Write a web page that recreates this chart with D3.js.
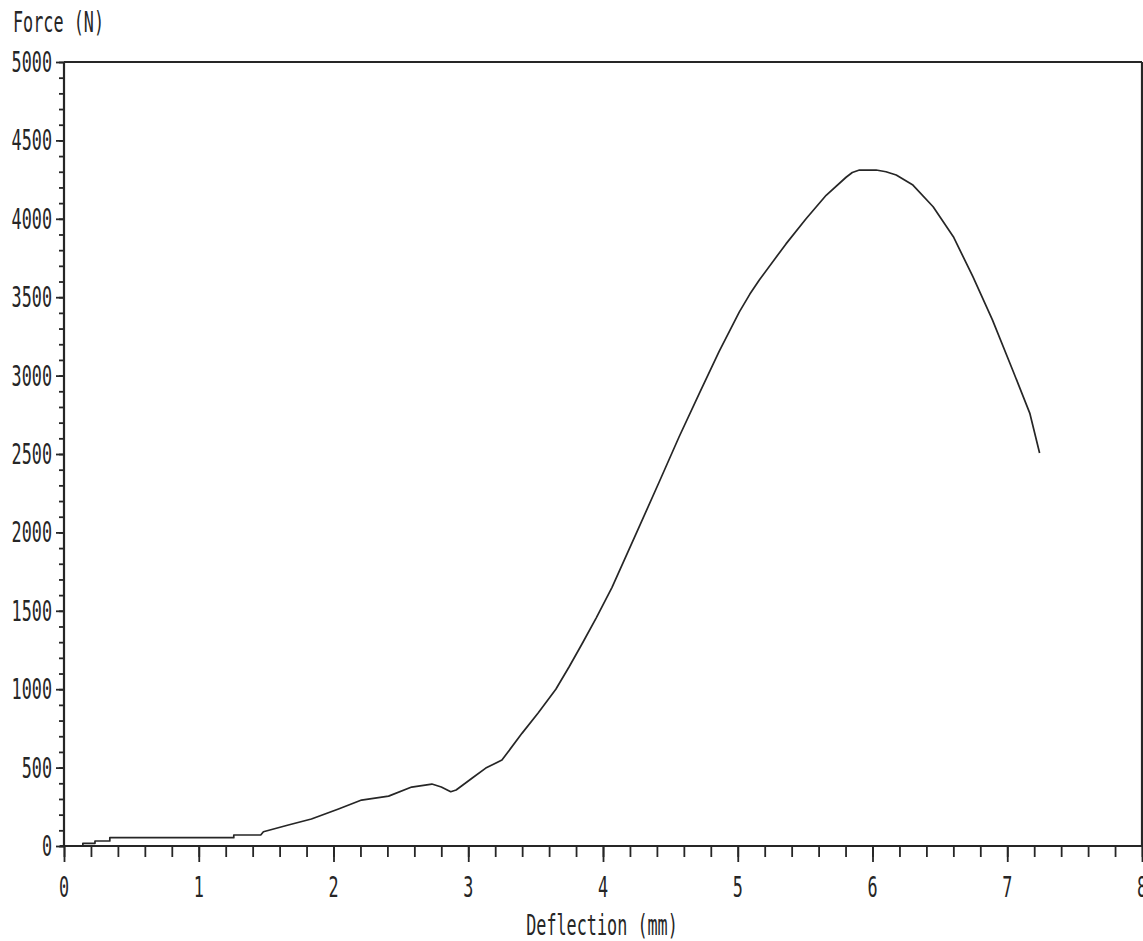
<!DOCTYPE html>
<html>
<head>
<meta charset="utf-8">
<script src="https://cdn.jsdelivr.net/npm/d3@7"></script>
<style>
  html, body { margin: 0; padding: 0; background: #ffffff; }
  svg { display: block; }
  text { font-family: "DejaVu Sans Mono", "Liberation Mono", monospace; fill: #262626; }
</style>
</head>
<body>
<svg id="chart" width="1143" height="941"></svg>
<script>
// ---- data ----
const deflection = [0, 0.14, 0.14, 0.23, 0.23, 0.34, 0.34, 1.26, 1.26, 1.46, 1.48, 1.665, 1.836, 2.037, 2.208, 2.409, 2.58, 2.73, 2.80, 2.87, 2.91, 3.03, 3.13, 3.25, 3.40, 3.52, 3.65, 3.75, 3.845, 3.95, 4.067, 4.245, 4.416, 4.565, 4.714, 4.862, 5.011, 5.09, 5.16, 5.358, 5.507, 5.656, 5.804, 5.85, 5.903, 6.027, 6.10, 6.176, 6.30, 6.45, 6.60, 6.745, 6.89, 7.04, 7.167, 7.24];
const force = [0, 0, 17, 17, 32, 32, 53, 53, 70, 70, 91, 134, 172, 236, 293, 318, 376, 395, 376, 346, 357, 434, 497, 548, 720, 850, 1000, 1145, 1290, 1455, 1650, 1990, 2320, 2610, 2885, 3155, 3405, 3520, 3610, 3840, 4000, 4150, 4265, 4295, 4311, 4311, 4300, 4279, 4215, 4077, 3886, 3631, 3355, 3036, 2761, 2506];
const xTickLabels = ["0", "1", "2", "3", "4", "5", "6", "7", "8"];
const yTickLabels = ["0", "500", "1000", "1500", "2000", "2500", "3000", "3500", "4000", "4500", "5000"];
const xTitle = "Deflection (mm)";
const yTitle = "Force (N)";

(function () {
  // ---- layout ----
  const pLeft = 64, pRight = 1142, pTop = 62, pBottom = 846;
  const svg = d3.select("#chart");
  const ink = "#262626";
  const sx = 0.6; // condensed glyphs

  const x = d3.scaleLinear().domain([0, 8]).range([pLeft, pRight]);
  const y = d3.scaleLinear().domain([0, 5000]).range([pBottom, pTop]);

  function condText(g, tx, ty, str, anchor, size) {
    g.append("g")
      .attr("transform", `translate(${tx},${ty}) scale(${sx},1)`)
      .append("text")
      .attr("text-anchor", anchor)
      .attr("font-size", size)
      .text(str);
  }

  const xMinor = d3.range(0, 41).map(i => +(i * 0.2).toFixed(2));
  const yMinor = d3.range(0, 5001, 100);

  const gxMinor = svg.append("g").attr("transform", `translate(0,${pBottom})`)
    .call(d3.axisBottom(x).tickValues(xMinor).tickSize(11).tickFormat(""));
  const gxMajor = svg.append("g").attr("transform", `translate(0,${pBottom})`)
    .call(d3.axisBottom(x).tickValues(xTickLabels.map(Number)).tickSize(16).tickFormat(""));
  const gyMinor = svg.append("g").attr("transform", `translate(${pLeft},0)`)
    .call(d3.axisLeft(y).tickValues(yMinor).tickSize(5).tickFormat(""));
  const gyMajor = svg.append("g").attr("transform", `translate(${pLeft},0)`)
    .call(d3.axisLeft(y).tickValues(yTickLabels.map(Number)).tickSize(8).tickFormat(""));

  [gxMinor, gxMajor, gyMinor, gyMajor].forEach(g => {
    g.select(".domain").remove();
    g.selectAll("line").attr("stroke", ink).attr("stroke-width", 1.8);
  });

  // axis lines and frame
  const frame = [
    [pLeft - 4, pBottom, pRight, pBottom],
    [pLeft, pTop, pLeft, pBottom],
    [pLeft, pTop, pRight, pTop],
    [pRight, pTop, pRight, pBottom]
  ];
  frame.forEach(f => svg.append("line")
    .attr("x1", f[0]).attr("y1", f[1]).attr("x2", f[2]).attr("y2", f[3])
    .attr("stroke", ink).attr("stroke-width", 2.2));

  // tick labels
  const labels = svg.append("g");
  xTickLabels.forEach(t => condText(labels, x(+t), 897, t, "middle", 28));
  yTickLabels.forEach(t => condText(labels, 52, y(+t) + 10, t, "end", 28));

  // titles
  condText(labels, 602, 935, xTitle, "middle", 28);
  condText(labels, 13, 32, yTitle, "start", 28);

  // curve
  const pts = deflection.map((d, i) => [d, force[i]]);
  svg.append("path")
    .datum(pts)
    .attr("fill", "none")
    .attr("stroke", ink)
    .attr("stroke-width", 1.7)
    .attr("stroke-linejoin", "round")
    .attr("d", d3.line().x(d => x(d[0])).y(d => y(d[1])));
})();
</script>
</body>
</html>
